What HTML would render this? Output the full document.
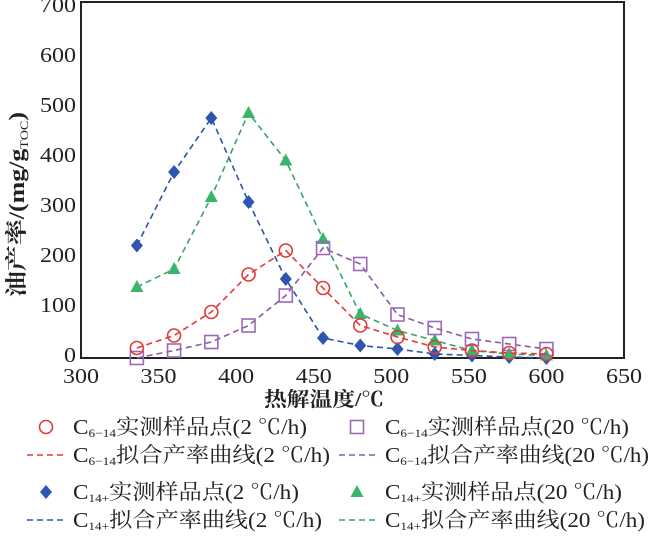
<!DOCTYPE html>
<html><head><meta charset="utf-8"><style>
body{margin:0;background:#fff;width:650px;height:533px;overflow:hidden}
svg text{font-family:"Liberation Serif","Noto Serif CJK SC",serif;fill:#222}
</style></head><body>
<svg id="c" width="650" height="533">
<g id="axes"></g><g id="series"></g><g id="legend"></g>
</svg>
<script>
const temps=[336,360,384,408,432,456,480,504,528,552,576,600];
const c614slow=[20,45,92,167,215,140,65,42,22,15,10,8];
const c614fast=[0,15,32,65,125,220,188,87,60,38,28,18];
const c14slow=[225,372,480,312,158,40,25,18,8,5,2,0];
const c14fast=[142,178,322,490,395,238,88,55,35,15,8,5];
const xTicks=[300,350,400,450,500,550,600,650];
const yTicks=[0,100,200,300,400,500,600,700];
const NS='http://www.w3.org/2000/svg';
const X0=81,X1=624,Y0=358,Y1=2;
function sx(v){return X0+(v-300)/350*(X1-X0);}
function sy(v){return Y0-(v/700)*(Y0-8);}
function mk(tag,attrs,parent,txt){const e=document.createElementNS(NS,tag);for(const k in attrs)e.setAttribute(k,attrs[k]);if(txt!==undefined)e.textContent=txt;parent.appendChild(e);return e;}
const axes=document.getElementById('axes');
const frame=mk('rect',{x:X0,y:Y1,width:X1-X0,height:Y0-Y1,fill:'none',stroke:'#222','stroke-width':2},axes);


xTicks.forEach(t=>{const e=mk('text',{x:sx(t)-18,y:383,'font-size':21,textLength:36,lengthAdjust:'spacingAndGlyphs'},axes,t);

});
yTicks.forEach(t=>{const w=String(t).length*12;const e=mk('text',{x:76-w,y:sy(t)+4,'font-size':21,textLength:w,lengthAdjust:'spacingAndGlyphs'},axes,t);

});
const xt=mk('text',{x:264,y:406,'font-size':20,'font-weight':'bold',textLength:120,lengthAdjust:'spacingAndGlyphs'},axes,'热解温度/℃');


const yt=mk('text',{transform:'translate(24,297) rotate(-90)','font-size':22,'font-weight':'bold',textLength:185,lengthAdjust:'spacingAndGlyphs'},axes);


yt.innerHTML='油产率/(mg/g<tspan font-size="12" font-weight="normal" dy="4">TOC</tspan><tspan dy="-4">)</tspan>';
const ser=document.getElementById('series');
function marker(type,cx,cy,col,g){let e;
if(type==='circle')e=mk('circle',{cx,cy,r:6.5,fill:'none',stroke:col,'stroke-width':1.6},g);
else if(type==='square')e=mk('rect',{x:cx-6.5,y:cy-6.5,width:13,height:13,fill:'none',stroke:col,'stroke-width':1.6},g);
else if(type==='diamond')e=mk('polygon',{points:`${cx},${cy-7} ${cx+6},${cy} ${cx},${cy+7} ${cx-6},${cy}`,fill:col},g);
else e=mk('polygon',{points:`${cx},${cy-7} ${cx+6.5},${cy+5} ${cx-6.5},${cy+5}`,fill:col},g);
return e;}
const S=[
{vals:c14slow,col:'#2a55a8',mcol:'#2e56b0',type:'diamond',name:'c14-2'},
{vals:c14fast,col:'#3aa36a',mcol:'#3ab56a',type:'triangle',name:'c14-20'},
{vals:c614fast,col:'#8a5aa8',mcol:'#9a6ab8',type:'square',name:'c6-14-20'},
{vals:c614slow,col:'#e03a3a',mcol:'#e03a3a',type:'circle',name:'c6-14-2'}];
S.forEach(s=>{const g=mk('g',{},ser);


const pts=temps.map((t,i)=>sx(t)+','+sy(s.vals[i])).join(' ');
const l=mk('polyline',{points:pts,fill:'none',stroke:s.col,'stroke-width':1.6,'stroke-dasharray':'6,4'},g);


temps.forEach((t,i)=>{const m=marker(s.type,sx(t),sy(s.vals[i]),s.mcol,g);

});});
const lg=document.getElementById('legend');
const items=[
{x:42,lx:73,w:234,y:427,kind:'circle',col:'#e03a3a',sub:'6−14',txt:'实测样品点(2 ℃/h)'},
{x:353,lx:385,w:244,y:427,kind:'square',col:'#9a6ab8',sub:'6−14',txt:'实测样品点(20 ℃/h)'},
{x:42,lx:73,w:257,y:455,kind:'line',col:'#e03a3a',sub:'6−14',txt:'拟合产率曲线(2 ℃/h)'},
{x:353,lx:385,w:264,y:455,kind:'line',col:'#8a5aa8',sub:'6−14',txt:'拟合产率曲线(20 ℃/h)'},
{x:42,lx:73,w:226,y:492,kind:'diamond',col:'#2e56b0',sub:'14+',txt:'实测样品点(2 ℃/h)'},
{x:353,lx:385,w:237,y:492,kind:'triangle',col:'#3ab56a',sub:'14+',txt:'实测样品点(20 ℃/h)'},
{x:42,lx:73,w:249,y:520,kind:'line',col:'#2a55a8',sub:'14+',txt:'拟合产率曲线(2 ℃/h)'},
{x:353,lx:385,w:260,y:520,kind:'line',col:'#3aa36a',sub:'14+',txt:'拟合产率曲线(20 ℃/h)'}];
items.forEach(it=>{const g=mk('g',{},lg);


if(it.kind==='line')mk('line',{x1:it.lx-46,y1:it.y,x2:it.lx-6,y2:it.y,stroke:it.col,'stroke-width':1.5,'stroke-dasharray':'6,4'},g);
else marker(it.kind,it.x+4,it.y,it.col,g);
const t=mk('text',{x:it.lx,y:it.y+7,'font-size':21,textLength:it.w,lengthAdjust:'spacingAndGlyphs'},g);
t.innerHTML='C<tspan font-size="12" dy="3">'+it.sub+'</tspan><tspan dy="-3">'+it.txt+'</tspan>';});
</script>
</body></html>
